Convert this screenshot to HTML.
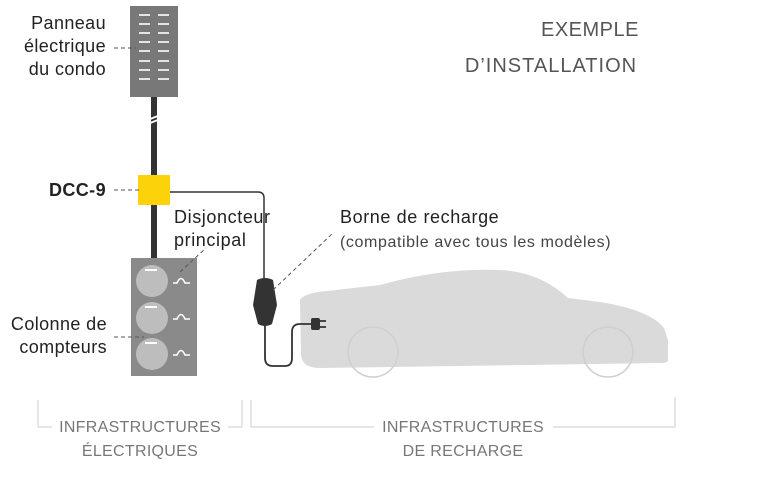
<!DOCTYPE html>
<html><head><style>
body{margin:0;background:#fff;}
svg{display:block;font-family:"Liberation Sans",sans-serif;}
</style></head><body>
<svg width="770" height="484" viewBox="0 0 770 484">
<text x="590" y="36" font-size="20" fill="#555" text-anchor="middle" letter-spacing="0.5">EXEMPLE</text>
<text x="551" y="72" font-size="20" fill="#555" text-anchor="middle" letter-spacing="1">D’INSTALLATION</text>
<rect x="130" y="6" width="48" height="91" fill="#787878"/>
<g stroke="#fff" stroke-width="1.6">
<line x1="139" y1="15" x2="150" y2="15"/><line x1="158" y1="15" x2="169" y2="15"/>
<line x1="139" y1="24" x2="150" y2="24"/><line x1="158" y1="24" x2="169" y2="24"/>
<line x1="139" y1="33" x2="150" y2="33"/><line x1="158" y1="33" x2="169" y2="33"/>
<line x1="139" y1="42" x2="150" y2="42"/><line x1="158" y1="42" x2="169" y2="42"/>
<line x1="139" y1="51" x2="150" y2="51"/><line x1="158" y1="51" x2="169" y2="51"/>
<line x1="139" y1="61" x2="150" y2="61"/><line x1="158" y1="61" x2="169" y2="61"/>
<line x1="139" y1="70" x2="150" y2="70"/><line x1="158" y1="70" x2="169" y2="70"/>
<line x1="139" y1="79" x2="150" y2="79"/><line x1="158" y1="79" x2="169" y2="79"/>
</g>
<rect x="151" y="97" width="6" height="161" fill="#333"/>
<line x1="145" y1="121" x2="163" y2="114" stroke="#fff" stroke-width="2"/>
<line x1="145" y1="125" x2="163" y2="118" stroke="#fff" stroke-width="2"/>
<rect x="138" y="175" width="32" height="30" fill="#fcd20a"/>
<path d="M170,192 H258 Q264,192 264,198 V285" fill="none" stroke="#333" stroke-width="1.5"/>
<rect x="131" y="258" width="66" height="118" fill="#8a8a8a"/>
<g fill="#bdbdbd"><circle cx="152" cy="281" r="16"/><circle cx="152" cy="318" r="16"/><circle cx="152" cy="354" r="16"/></g>
<g stroke="#fff" stroke-width="2"><line x1="145" y1="270" x2="157" y2="270"/><line x1="145" y1="307" x2="157" y2="307"/><line x1="145" y1="343" x2="157" y2="343"/></g>
<g fill="none" stroke="#fff" stroke-width="1.6">
<path d="M173,283 H177 Q181,274 185,283 H190"/>
<path d="M173,319 H177 Q181,310 185,319 H190"/>
<path d="M173,355 H177 Q181,346 185,355 H190"/>
</g>
<path d="M300,300 Q302,295 318,292 L380,285 Q440,268 500,270 Q540,272 568,298 L600,302 Q650,310 664,328 L668,340 L668,360 Q668,363 660,363 L320,368 Q302,368 301,355 Z" fill="#dadada"/>
<circle cx="373" cy="352" r="25" fill="none" stroke="#cfcfcf" stroke-width="1.5"/>
<circle cx="608" cy="352" r="25" fill="none" stroke="#cfcfcf" stroke-width="1.5"/>
<path d="M257,280 Q265,276 273,280 L277,305 L272,324 Q265,328 258,324 L253,305 Z" fill="#333"/>
<path d="M265,326 V358 Q265,366 273,366 H285 Q292,366 292,358 V332 Q292,324 300,324 H312" fill="none" stroke="#333" stroke-width="1.8"/>
<rect x="311" y="318" width="9" height="12" rx="2" fill="#333"/>
<line x1="320" y1="321" x2="326" y2="321" stroke="#333" stroke-width="1.8"/>
<line x1="320" y1="327" x2="326" y2="327" stroke="#333" stroke-width="1.8"/>
<g stroke="#555" stroke-width="1" stroke-dasharray="4,3" fill="none">
<line x1="114" y1="48" x2="136" y2="48"/>
<line x1="114" y1="190" x2="140" y2="190"/>
<line x1="180" y1="272" x2="206" y2="248"/>
<line x1="114" y1="337" x2="144" y2="337"/>
<line x1="273" y1="290" x2="334" y2="232"/>
</g>
<g font-size="18" fill="#222" text-anchor="end" letter-spacing="0.4">
<text x="106" y="29">Panneau</text>
<text x="106" y="52">électrique</text>
<text x="106" y="75">du condo</text>
<text x="106" y="196" font-weight="bold">DCC-9</text>
<text x="107" y="330">Colonne de</text>
<text x="107" y="353">compteurs</text>
</g>
<g font-size="18" fill="#222" letter-spacing="0.6">
<text x="174" y="223">Disjoncteur</text>
<text x="174" y="246">principal</text>
<text x="340" y="223">Borne de recharge</text>
</g>
<text x="340" y="247" font-size="16" fill="#444" letter-spacing="0.6">(compatible avec tous les modèles)</text>
<g stroke="#ccc" stroke-width="1" fill="none">
<path d="M38,400 V427 H52"/>
<path d="M228,427 H242 V400"/>
<path d="M251,400 V427 H374"/>
<path d="M553,427 H675 V397"/>
</g>
<g font-size="16" fill="#777" text-anchor="middle" letter-spacing="0.3">
<text x="140" y="432">INFRASTRUCTURES</text>
<text x="140" y="456">ÉLECTRIQUES</text>
<text x="463" y="432">INFRASTRUCTURES</text>
<text x="463" y="456">DE RECHARGE</text>
</g>
</svg>
</body></html>
